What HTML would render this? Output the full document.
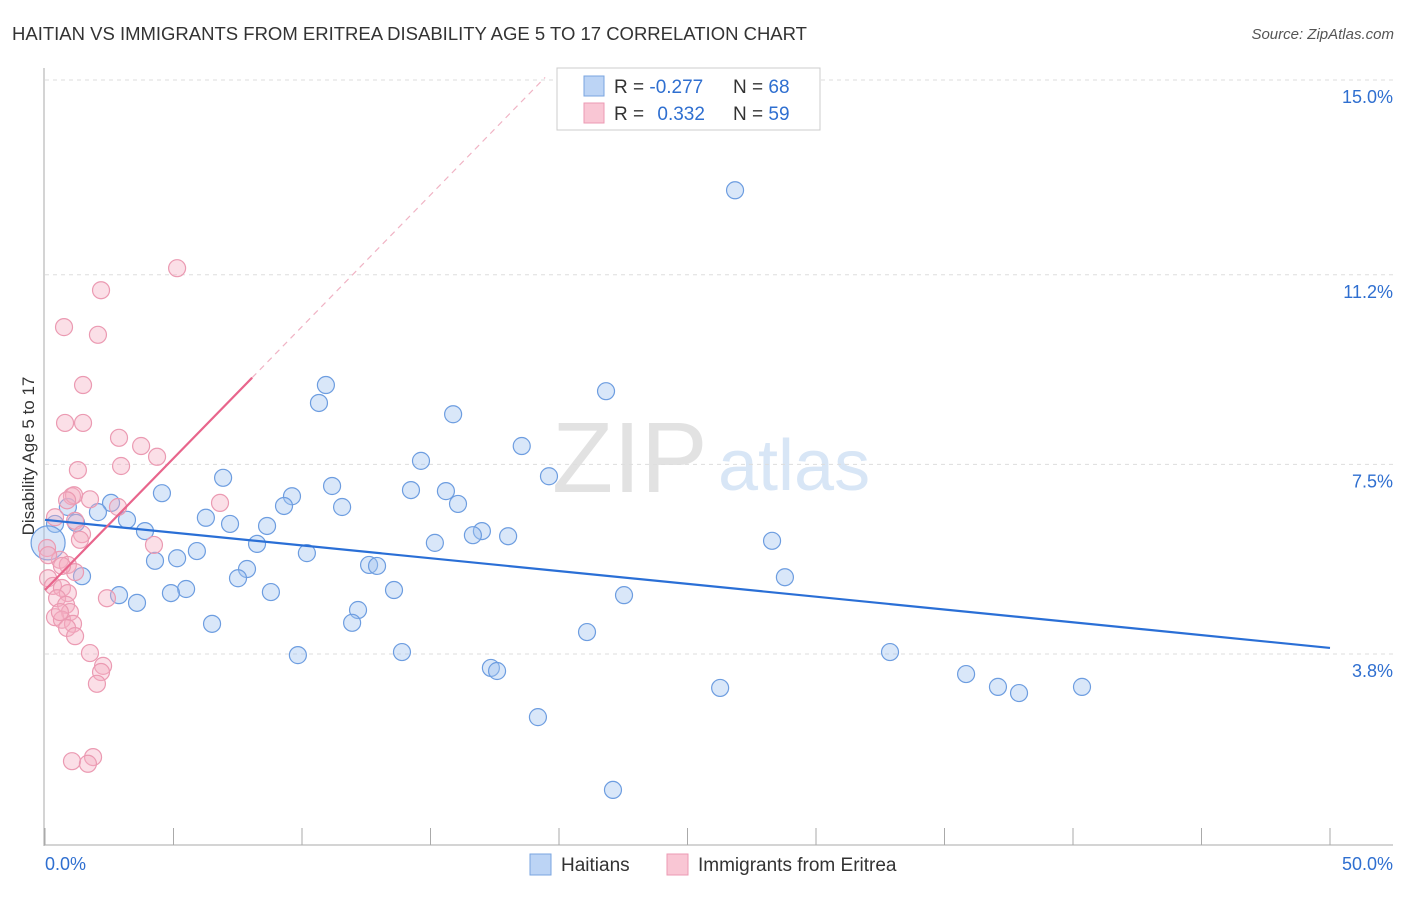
<!DOCTYPE html>
<html><head><meta charset="utf-8"><style>
body{margin:0;background:#fff;font-family:"Liberation Sans",sans-serif;}
svg text{font-family:"Liberation Sans",sans-serif;}
</style></head><body>
<svg id="chart" width="1406" height="892" xmlns="http://www.w3.org/2000/svg">
<text x="12" y="40" font-size="18.5" fill="#333">HAITIAN VS IMMIGRANTS FROM ERITREA DISABILITY AGE 5 TO 17 CORRELATION CHART</text>
<text x="1394" y="39" font-size="15" fill="#555" text-anchor="end" font-style="italic">Source: ZipAtlas.com</text>
<text x="34" y="456" font-size="17" fill="#333" text-anchor="middle" transform="rotate(-90 34 456)">Disability Age 5 to 17</text>
<text x="552" y="492" font-size="100" fill="#e2e2e2" font-family="Liberation Serif">ZIP</text>
<text x="718" y="490" font-size="72" fill="#d8e6f6">atlas</text>
<g id="grid"></g>
<g id="pts"></g>
<g id="lines"></g>
<g>
<rect x="557" y="68" width="263" height="62" fill="#fff" stroke="#ccc"/>
<rect x="584" y="76" width="20" height="20" fill="#bcd4f5" stroke="#7aa5e0"/>
<rect x="584" y="103" width="20" height="20" fill="#f9c6d4" stroke="#ec9ab3"/>
<text x="614" y="93" font-size="19" fill="#333">R = <tspan fill="#2f6fd0">-0.277</tspan></text>
<text x="733" y="93" font-size="19" fill="#333">N = <tspan fill="#2f6fd0">68</tspan></text>
<text x="614" y="120" font-size="19" fill="#333">R = <tspan fill="#2f6fd0" dx="8">0.332</tspan></text>
<text x="733" y="120" font-size="19" fill="#333">N = <tspan fill="#2f6fd0">59</tspan></text>
</g>
<g>
<rect x="530" y="854" width="21" height="21" fill="#bcd4f5" stroke="#7aa5e0"/>
<text x="561" y="871" font-size="19" fill="#333">Haitians</text>
<rect x="667" y="854" width="21" height="21" fill="#f9c6d4" stroke="#ec9ab3"/>
<text x="698" y="871" font-size="19" fill="#333">Immigrants from Eritrea</text>
</g>
</svg>
<script>
const yTicks=[15.0,11.2,7.5,3.8];
const yTickLabels=["15.0%","11.2%","7.5%","3.8%"];
const xTicks=[0,5,10,15,20,25,30,35,40,45,50];
const xLabels=["0.0%","50.0%"];
const blueX=[26.85,10.93,10.66,21.83,15.88,18.55,14.63,19.61,6.93,4.55,11.17,14.24,15.60,9.61,2.57,9.30,11.56,16.07,2.06,0.89,6.26,3.19,1.21,7.20,8.64,3.89,17.00,16.65,18.02,0.39,15.17,8.25,28.29,5.91,10.19,5.14,4.28,12.61,12.92,7.86,1.44,7.51,28.79,5.49,4.90,8.79,13.58,2.88,22.53,3.58,12.18,11.95,6.50,21.09,32.88,13.89,9.84,17.35,17.59,35.84,26.27,37.08,37.90,40.35,19.18,22.10,0.12];
const blueY=[13.18,9.38,9.03,9.26,8.81,8.19,7.90,7.60,7.57,7.27,7.41,7.33,7.31,7.21,7.08,7.02,7.00,7.06,6.90,7.00,6.79,6.75,6.69,6.67,6.63,6.53,6.53,6.45,6.43,6.67,6.30,6.28,6.34,6.14,6.10,6.00,5.95,5.87,5.85,5.79,5.65,5.61,5.63,5.40,5.32,5.34,5.38,5.28,5.28,5.13,4.99,4.74,4.72,4.56,4.17,4.17,4.11,3.86,3.80,3.74,3.47,3.49,3.37,3.49,2.90,1.48,6.30];
const pinkX=[5.14,2.18,0.74,2.06,1.48,0.78,1.48,2.88,3.74,4.36,2.96,1.28,1.05,6.81,2.84,0.39,1.17,1.44,4.24,0.08,0.58,0.89,1.17,0.12,0.31,0.66,0.89,0.47,2.41,0.82,0.97,0.39,0.66,1.09,0.86,1.17,1.75,2.26,2.18,2.02,1.87,1.05,1.67,0.66,1.36,0.12,1.13,0.86,1.75,0.58];
const pinkY=[11.66,11.23,10.51,10.36,9.38,8.64,8.64,8.35,8.19,7.98,7.80,7.72,7.21,7.08,7.00,6.80,6.73,6.47,6.26,6.20,5.97,5.87,5.73,5.61,5.46,5.42,5.32,5.22,5.22,5.09,4.95,4.85,4.80,4.72,4.64,4.48,4.15,3.90,3.78,3.55,2.12,2.04,1.99,5.85,6.36,6.06,7.23,7.13,7.15,4.95];
const blueLine=[6.75,4.25];
const pinkLine=[5.38,0.514];
const NS="http://www.w3.org/2000/svg";
const xs=v=>45+v*1285/50;
const ys=v=>97+(15-v)*51.25;
function mk(tag,attrs,parent){const e=document.createElementNS(NS,tag);for(const k in attrs)e.setAttribute(k,attrs[k]);parent.appendChild(e);return e;}
const grid=document.getElementById('grid');
yTicks.forEach((t,i)=>{
 const gy=ys(t)-17;
 const l=mk('line',{x1:45,x2:1393,y1:gy,y2:gy,stroke:'#ddd','stroke-dasharray':'4,4'},grid);
 
 
 const tx=mk('text',{x:1393,y:ys(t)+6,'font-size':18,fill:'#2f6fd0','text-anchor':'end'},grid);
 tx.textContent=yTickLabels[i];
 
 
});
const ax=mk('line',{x1:44,x2:44,y1:68,y2:846,stroke:'#aaa'},grid);


const bx=mk('line',{x1:44,x2:1393,y1:845,y2:845,stroke:'#aaa'},grid);


xTicks.forEach(t=>{
 const l=mk('line',{x1:xs(t),x2:xs(t),y1:828,y2:845,stroke:'#aaa'},grid);
 
 
});
const xl0=mk('text',{x:45,y:870,'font-size':18,fill:'#2f6fd0'},grid);xl0.textContent=xLabels[0];


const xl1=mk('text',{x:1393,y:870,'font-size':18,fill:'#2f6fd0','text-anchor':'end'},grid);xl1.textContent=xLabels[1];


const pts=document.getElementById('pts');
blueX.forEach((x,i)=>{
 const big=(i===blueX.length-1);
 const c=mk('circle',{cx:xs(x),cy:ys(blueY[i]),r:big?17:8.5,fill:'rgba(160,195,240,0.4)',stroke:'#6d9de0','stroke-width':1.2},pts);
 
 
});
pinkX.forEach((x,i)=>{
 const c=mk('circle',{cx:xs(x),cy:ys(pinkY[i]),r:8.5,fill:'rgba(245,175,195,0.4)',stroke:'#eb9ab2','stroke-width':1.2},pts);
 
 
});
const lines=document.getElementById('lines');
const bl=mk('line',{x1:xs(0),y1:ys(blueLine[0]),x2:xs(50),y2:ys(blueLine[1]),stroke:'#2a6fd6','stroke-width':2.2},lines);


const pEnd=8.06, pDash=19.46;
const pl=mk('line',{x1:xs(0),y1:ys(pinkLine[0]),x2:xs(pEnd),y2:ys(pinkLine[0]+pinkLine[1]*pEnd),stroke:'#e8658c','stroke-width':2.2},lines);


const pd=mk('line',{x1:xs(pEnd),y1:ys(pinkLine[0]+pinkLine[1]*pEnd),x2:xs(pDash),y2:ys(pinkLine[0]+pinkLine[1]*pDash),stroke:'#f0b3c4','stroke-width':1.2,'stroke-dasharray':'6,5'},lines);


</script>
</body></html>
